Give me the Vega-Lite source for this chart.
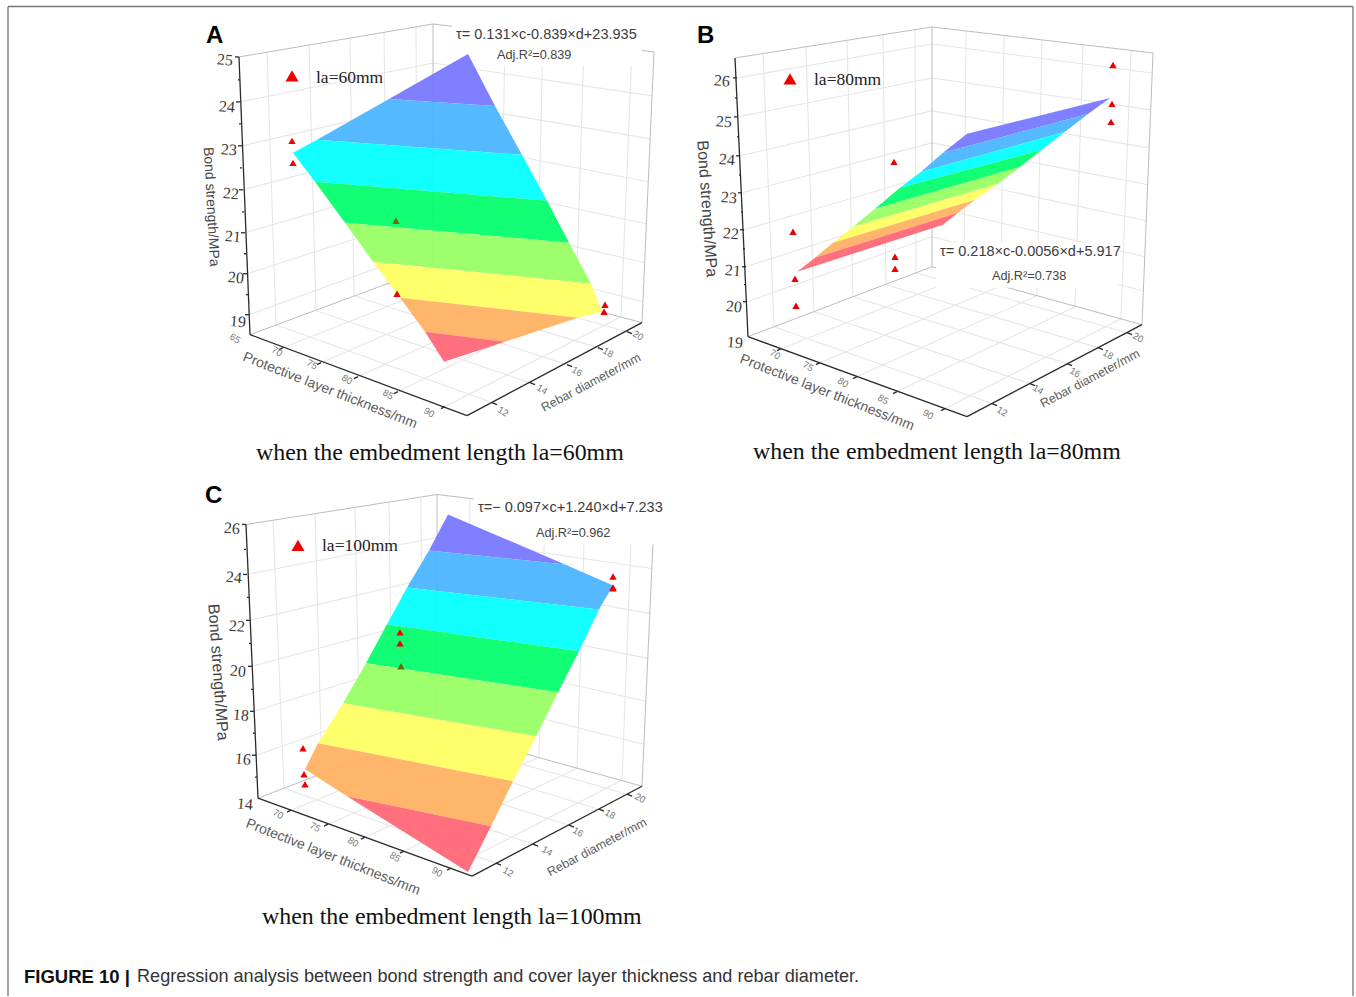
{
"$schema":"https://vega.github.io/schema/vega-lite/v6.json",
"width":1356,"height":997,"padding":0,"autosize":{"type":"fit","contains":"padding"},
"background":"white",
"config":{"view":{"stroke":null}},
"datasets":{
"seg":[
{"k":"frame","x":8,"y":997,"x2":8,"y2":6.5},{"k":"frame","x":8,"y":6.5,"x2":1353,"y2":6.5},{"k":"frame","x":1353,"y":6.5,"x2":1353,"y2":997},
{"k":"grid","x":240,"y":102,"x2":433,"y2":63},{"k":"grid","x":433,"y":63,"x2":652,"y2":96},
{"k":"grid","x":242,"y":146,"x2":433,"y2":102},{"k":"grid","x":433,"y":102,"x2":650,"y2":139},
{"k":"grid","x":243,"y":190,"x2":433,"y2":140},{"k":"grid","x":433,"y":140,"x2":648,"y2":182},
{"k":"grid","x":245,"y":233,"x2":433,"y2":178},{"k":"grid","x":433,"y":178,"x2":646,"y2":224},
{"k":"grid","x":247,"y":274,"x2":433,"y2":214},{"k":"grid","x":433,"y":214,"x2":645,"y2":263},
{"k":"grid","x":249,"y":315,"x2":433,"y2":248},{"k":"grid","x":433,"y":248,"x2":643,"y2":302},
{"k":"grid","x":283,"y":348,"x2":465,"y2":276},{"k":"grid","x":321,"y":363,"x2":501,"y2":285},{"k":"grid","x":358,"y":377,"x2":537,"y2":295},{"k":"grid","x":398,"y":392,"x2":576,"y2":305},{"k":"grid","x":445,"y":407,"x2":621,"y2":317},
{"k":"grid","x":465,"y":276,"x2":467,"y2":28},{"k":"grid","x":501,"y":285,"x2":505,"y2":33},{"k":"grid","x":537,"y":295,"x2":543,"y2":38},{"k":"grid","x":576,"y":305,"x2":584,"y2":43},{"k":"grid","x":621,"y":317,"x2":632,"y2":49},
{"k":"grid","x":492,"y":403,"x2":276,"y2":325},{"k":"grid","x":530,"y":383,"x2":316,"y2":311},{"k":"grid","x":567,"y":365,"x2":354,"y2":296},{"k":"grid","x":598,"y":348,"x2":387,"y2":284},{"k":"grid","x":627,"y":332,"x2":417,"y2":273},
{"k":"grid","x":276,"y":325,"x2":267,"y2":52},{"k":"grid","x":316,"y":311,"x2":309,"y2":45},{"k":"grid","x":354,"y":296,"x2":350,"y2":38},{"k":"grid","x":387,"y":284,"x2":384,"y2":32},{"k":"grid","x":417,"y":273,"x2":416,"y2":27},
{"k":"edge","x":239,"y":57,"x2":433,"y2":24},{"k":"edge","x":433,"y":24,"x2":654,"y2":52},{"k":"edge","x":433,"y":24,"x2":433,"y2":267},{"k":"edge","x":654,"y":52,"x2":642,"y2":323},{"k":"edge","x":250,"y":335,"x2":433,"y2":267},{"k":"edge","x":433,"y":267,"x2":642,"y2":323},
{"k":"grid","x":737,"y":78,"x2":932,"y2":44},{"k":"grid","x":932,"y":44,"x2":1152,"y2":73},
{"k":"grid","x":738,"y":117,"x2":932,"y2":78},{"k":"grid","x":932,"y":78,"x2":1151,"y2":110},
{"k":"grid","x":740,"y":156,"x2":932,"y2":111},{"k":"grid","x":932,"y":111,"x2":1149,"y2":148},
{"k":"grid","x":742,"y":193,"x2":932,"y2":143},{"k":"grid","x":932,"y":143,"x2":1148,"y2":185},
{"k":"grid","x":744,"y":230,"x2":932,"y2":175},{"k":"grid","x":932,"y":175,"x2":1146,"y2":221},
{"k":"grid","x":746,"y":267,"x2":932,"y2":207},{"k":"grid","x":932,"y":207,"x2":1145,"y2":257},
{"k":"grid","x":747,"y":302,"x2":932,"y2":237},{"k":"grid","x":932,"y":237,"x2":1143,"y2":291},
{"k":"grid","x":781,"y":349,"x2":964,"y2":276},{"k":"grid","x":820,"y":363,"x2":1001,"y2":286},{"k":"grid","x":857,"y":377,"x2":1037,"y2":296},{"k":"grid","x":897,"y":392,"x2":1075,"y2":307},{"k":"grid","x":945,"y":409,"x2":1121,"y2":319},
{"k":"grid","x":964,"y":276,"x2":966,"y2":31},{"k":"grid","x":1001,"y":286,"x2":1004,"y2":36},{"k":"grid","x":1037,"y":296,"x2":1042,"y2":40},{"k":"grid","x":1075,"y":307,"x2":1083,"y2":45},{"k":"grid","x":1121,"y":319,"x2":1131,"y2":50},
{"k":"grid","x":992,"y":404,"x2":774,"y2":327},{"k":"grid","x":1030,"y":384,"x2":814,"y2":312},{"k":"grid","x":1067,"y":364,"x2":853,"y2":297},{"k":"grid","x":1098,"y":348,"x2":886,"y2":285},{"k":"grid","x":1127,"y":333,"x2":916,"y2":273},
{"k":"grid","x":774,"y":327,"x2":763,"y2":54},{"k":"grid","x":814,"y":312,"x2":806,"y2":47},{"k":"grid","x":853,"y":297,"x2":847,"y2":40},{"k":"grid","x":886,"y":285,"x2":883,"y2":35},{"k":"grid","x":916,"y":273,"x2":915,"y2":30},
{"k":"edge","x":735,"y":58,"x2":932,"y2":27},{"k":"edge","x":932,"y":27,"x2":1153,"y2":53},{"k":"edge","x":932,"y":27,"x2":932,"y2":267},{"k":"edge","x":1153,"y":53,"x2":1142,"y2":325},{"k":"edge","x":748,"y":337,"x2":932,"y2":267},{"k":"edge","x":932,"y":267,"x2":1142,"y2":325},
{"k":"grid","x":247,"y":575,"x2":437,"y2":538},{"k":"grid","x":437,"y":538,"x2":652,"y2":569},
{"k":"grid","x":250,"y":621,"x2":437,"y2":577},{"k":"grid","x":437,"y":577,"x2":650,"y2":614},
{"k":"grid","x":252,"y":667,"x2":437,"y2":617},{"k":"grid","x":437,"y":617,"x2":648,"y2":659},
{"k":"grid","x":254,"y":712,"x2":437,"y2":655},{"k":"grid","x":437,"y":655,"x2":646,"y2":702},
{"k":"grid","x":256,"y":756,"x2":437,"y2":693},{"k":"grid","x":437,"y":693,"x2":644,"y2":745},
{"k":"grid","x":291,"y":811,"x2":468,"y2":739},{"k":"grid","x":328,"y":825,"x2":504,"y2":749},{"k":"grid","x":365,"y":838,"x2":539,"y2":758},{"k":"grid","x":404,"y":852,"x2":577,"y2":769},{"k":"grid","x":451,"y":869,"x2":622,"y2":781},
{"k":"grid","x":468,"y":739,"x2":470,"y2":499},{"k":"grid","x":504,"y":749,"x2":508,"y2":503},{"k":"grid","x":539,"y":758,"x2":545,"y2":508},{"k":"grid","x":577,"y":769,"x2":585,"y2":513},{"k":"grid","x":622,"y":781,"x2":632,"y2":518},
{"k":"grid","x":496,"y":864,"x2":284,"y2":789},{"k":"grid","x":533,"y":845,"x2":322,"y2":774},{"k":"grid","x":569,"y":826,"x2":360,"y2":760},{"k":"grid","x":599,"y":810,"x2":392,"y2":747},{"k":"grid","x":627,"y":795,"x2":422,"y2":736},
{"k":"grid","x":284,"y":789,"x2":273,"y2":521},{"k":"grid","x":322,"y":774,"x2":315,"y2":514},{"k":"grid","x":360,"y":760,"x2":355,"y2":508},{"k":"grid","x":392,"y":747,"x2":389,"y2":503},{"k":"grid","x":422,"y":736,"x2":421,"y2":498},
{"k":"edge","x":246,"y":525,"x2":437,"y2":495},{"k":"edge","x":437,"y":495,"x2":654,"y2":521},{"k":"edge","x":437,"y":495,"x2":437,"y2":730},{"k":"edge","x":654,"y":521,"x2":642,"y2":787},{"k":"edge","x":258,"y":799,"x2":437,"y2":730},{"k":"edge","x":437,"y":730,"x2":642,"y2":787}
],
"axes":[
{"k":"axis","x":239,"y":57,"x2":250,"y2":335},{"k":"axis","x":250,"y":335,"x2":467,"y2":416},{"k":"axis","x":467,"y":416,"x2":642,"y2":323},
{"k":"axis","x":735,"y":58,"x2":748,"y2":337},{"k":"axis","x":748,"y":337,"x2":967,"y2":417},{"k":"axis","x":967,"y":417,"x2":1142,"y2":325},
{"k":"axis","x":246,"y":525,"x2":258,"y2":799},{"k":"axis","x":258,"y":799,"x2":472,"y2":877},{"k":"axis","x":472,"y":877,"x2":642,"y2":787},
{"k":"tick","x":239,"y":57,"x2":235,"y2":57},{"k":"tick","x":240,"y":102,"x2":236,"y2":102},{"k":"tick","x":242,"y":146,"x2":238,"y2":146},{"k":"tick","x":243,"y":190,"x2":239,"y2":190},{"k":"tick","x":245,"y":233,"x2":241,"y2":233},{"k":"tick","x":247,"y":274,"x2":243,"y2":274},{"k":"tick","x":249,"y":315,"x2":245,"y2":315},
{"k":"tick","x":240,"y":80,"x2":238,"y2":80},{"k":"tick","x":241,"y":124,"x2":239,"y2":124},{"k":"tick","x":242,"y":168,"x2":240,"y2":168},{"k":"tick","x":244,"y":212,"x2":242,"y2":212},{"k":"tick","x":246,"y":254,"x2":244,"y2":254},{"k":"tick","x":248,"y":295,"x2":246,"y2":295},
{"k":"tick","x":283,"y":348,"x2":279,"y2":350},{"k":"tick","x":321,"y":363,"x2":317,"y2":365},{"k":"tick","x":358,"y":377,"x2":354,"y2":379},{"k":"tick","x":398,"y":392,"x2":394,"y2":394},{"k":"tick","x":445,"y":407,"x2":441,"y2":409},
{"k":"tick","x":492,"y":403,"x2":497,"y2":405},{"k":"tick","x":530,"y":383,"x2":535,"y2":385},{"k":"tick","x":567,"y":365,"x2":572,"y2":367},{"k":"tick","x":598,"y":348,"x2":603,"y2":350},{"k":"tick","x":627,"y":332,"x2":632,"y2":334},
{"k":"tick","x":737,"y":78,"x2":733,"y2":78},{"k":"tick","x":738,"y":117,"x2":734,"y2":117},{"k":"tick","x":740,"y":156,"x2":736,"y2":156},{"k":"tick","x":742,"y":193,"x2":738,"y2":193},{"k":"tick","x":744,"y":230,"x2":740,"y2":230},{"k":"tick","x":746,"y":267,"x2":742,"y2":267},{"k":"tick","x":747,"y":302,"x2":743,"y2":302},
{"k":"tick","x":737,"y":98,"x2":735,"y2":98},{"k":"tick","x":739,"y":137,"x2":737,"y2":137},{"k":"tick","x":741,"y":175,"x2":739,"y2":175},{"k":"tick","x":743,"y":212,"x2":741,"y2":212},{"k":"tick","x":745,"y":249,"x2":743,"y2":249},{"k":"tick","x":746,"y":285,"x2":744,"y2":285},
{"k":"tick","x":781,"y":349,"x2":777,"y2":351},{"k":"tick","x":820,"y":363,"x2":816,"y2":365},{"k":"tick","x":857,"y":377,"x2":853,"y2":379},{"k":"tick","x":897,"y":392,"x2":893,"y2":394},{"k":"tick","x":945,"y":409,"x2":941,"y2":411},
{"k":"tick","x":992,"y":404,"x2":997,"y2":406},{"k":"tick","x":1030,"y":384,"x2":1035,"y2":386},{"k":"tick","x":1067,"y":364,"x2":1072,"y2":366},{"k":"tick","x":1098,"y":348,"x2":1103,"y2":350},{"k":"tick","x":1127,"y":333,"x2":1132,"y2":335},
{"k":"tick","x":246,"y":525,"x2":242,"y2":525},{"k":"tick","x":247,"y":575,"x2":243,"y2":575},{"k":"tick","x":250,"y":621,"x2":246,"y2":621},{"k":"tick","x":252,"y":667,"x2":248,"y2":667},{"k":"tick","x":254,"y":712,"x2":250,"y2":712},{"k":"tick","x":256,"y":756,"x2":252,"y2":756},
{"k":"tick","x":246,"y":550,"x2":244,"y2":550},{"k":"tick","x":249,"y":598,"x2":247,"y2":598},{"k":"tick","x":251,"y":644,"x2":249,"y2":644},{"k":"tick","x":253,"y":690,"x2":251,"y2":690},{"k":"tick","x":255,"y":734,"x2":253,"y2":734},{"k":"tick","x":257,"y":778,"x2":255,"y2":778},
{"k":"tick","x":291,"y":811,"x2":287,"y2":813},{"k":"tick","x":328,"y":825,"x2":324,"y2":827},{"k":"tick","x":365,"y":838,"x2":361,"y2":840},{"k":"tick","x":404,"y":852,"x2":400,"y2":854},{"k":"tick","x":451,"y":869,"x2":447,"y2":871},
{"k":"tick","x":496,"y":864,"x2":501,"y2":866},{"k":"tick","x":533,"y":845,"x2":538,"y2":847},{"k":"tick","x":569,"y":826,"x2":574,"y2":828},{"k":"tick","x":599,"y":810,"x2":604,"y2":812},{"k":"tick","x":627,"y":795,"x2":632,"y2":797}
],
"patch":[
{"x":452,"x2":642,"y":26,"y2":66},
{"x":936,"x2":1118,"y":243,"y2":288},
{"x":474,"x2":668,"y":498,"y2":545}
],
"surf":[
{"p":"A","b":"b1","i":1,"x":468,"y":54},{"p":"A","b":"b1","i":2,"x":495,"y":106},{"p":"A","b":"b1","i":3,"x":389,"y":99},
{"p":"A","b":"b2","i":1,"x":389,"y":99},{"p":"A","b":"b2","i":2,"x":495,"y":106},{"p":"A","b":"b2","i":3,"x":522,"y":155},{"p":"A","b":"b2","i":4,"x":317,"y":140},
{"p":"A","b":"b3","i":1,"x":317,"y":140},{"p":"A","b":"b3","i":2,"x":522,"y":155},{"p":"A","b":"b3","i":3,"x":547,"y":201},{"p":"A","b":"b3","i":4,"x":315,"y":182},{"p":"A","b":"b3","i":5,"x":293,"y":153},
{"p":"A","b":"b4","i":1,"x":315,"y":182},{"p":"A","b":"b4","i":2,"x":547,"y":201},{"p":"A","b":"b4","i":3,"x":569,"y":243},{"p":"A","b":"b4","i":4,"x":345,"y":223},
{"p":"A","b":"b5","i":1,"x":345,"y":223},{"p":"A","b":"b5","i":2,"x":569,"y":243},{"p":"A","b":"b5","i":3,"x":591,"y":284},{"p":"A","b":"b5","i":4,"x":373,"y":262},
{"p":"A","b":"b6","i":1,"x":373,"y":262},{"p":"A","b":"b6","i":2,"x":591,"y":284},{"p":"A","b":"b6","i":3,"x":602,"y":312},{"p":"A","b":"b6","i":4,"x":578,"y":318},{"p":"A","b":"b6","i":5,"x":400,"y":298},
{"p":"A","b":"b7","i":1,"x":400,"y":298},{"p":"A","b":"b7","i":2,"x":578,"y":318},{"p":"A","b":"b7","i":3,"x":505,"y":342},{"p":"A","b":"b7","i":4,"x":425,"y":332},
{"p":"A","b":"b8","i":1,"x":425,"y":332},{"p":"A","b":"b8","i":2,"x":505,"y":342},{"p":"A","b":"b8","i":3,"x":444,"y":362},
{"p":"B","b":"b1","i":1,"x":967,"y":134},{"p":"B","b":"b1","i":2,"x":1110,"y":98},{"p":"B","b":"b1","i":3,"x":1088,"y":114},{"p":"B","b":"b1","i":4,"x":943,"y":153},
{"p":"B","b":"b2","i":1,"x":943,"y":153},{"p":"B","b":"b2","i":2,"x":1088,"y":114},{"p":"B","b":"b2","i":3,"x":1065,"y":132},{"p":"B","b":"b2","i":4,"x":921,"y":172},
{"p":"B","b":"b3","i":1,"x":921,"y":172},{"p":"B","b":"b3","i":2,"x":1065,"y":132},{"p":"B","b":"b3","i":3,"x":1042,"y":150},{"p":"B","b":"b3","i":4,"x":900,"y":188},
{"p":"B","b":"b4","i":1,"x":900,"y":188},{"p":"B","b":"b4","i":2,"x":1042,"y":150},{"p":"B","b":"b4","i":3,"x":1020,"y":167},{"p":"B","b":"b4","i":4,"x":875,"y":209},
{"p":"B","b":"b5","i":1,"x":875,"y":209},{"p":"B","b":"b5","i":2,"x":1020,"y":167},{"p":"B","b":"b5","i":3,"x":998,"y":184},{"p":"B","b":"b5","i":4,"x":853,"y":227},
{"p":"B","b":"b6","i":1,"x":853,"y":227},{"p":"B","b":"b6","i":2,"x":998,"y":184},{"p":"B","b":"b6","i":3,"x":975,"y":200},{"p":"B","b":"b6","i":4,"x":833,"y":243},
{"p":"B","b":"b7","i":1,"x":833,"y":243},{"p":"B","b":"b7","i":2,"x":975,"y":200},{"p":"B","b":"b7","i":3,"x":958,"y":213},{"p":"B","b":"b7","i":4,"x":815,"y":258},
{"p":"B","b":"b8","i":1,"x":815,"y":258},{"p":"B","b":"b8","i":2,"x":958,"y":213},{"p":"B","b":"b8","i":3,"x":943,"y":225},{"p":"B","b":"b8","i":4,"x":797,"y":272},
{"p":"C","b":"b1","i":1,"x":448,"y":515},{"p":"C","b":"b1","i":2,"x":565,"y":565},{"p":"C","b":"b1","i":3,"x":429,"y":551},
{"p":"C","b":"b2","i":1,"x":429,"y":551},{"p":"C","b":"b2","i":2,"x":565,"y":565},{"p":"C","b":"b2","i":3,"x":613,"y":586},{"p":"C","b":"b2","i":4,"x":599,"y":610},{"p":"C","b":"b2","i":5,"x":407,"y":588},
{"p":"C","b":"b3","i":1,"x":407,"y":588},{"p":"C","b":"b3","i":2,"x":599,"y":610},{"p":"C","b":"b3","i":3,"x":579,"y":652},{"p":"C","b":"b3","i":4,"x":387,"y":625},
{"p":"C","b":"b4","i":1,"x":387,"y":625},{"p":"C","b":"b4","i":2,"x":579,"y":652},{"p":"C","b":"b4","i":3,"x":558,"y":693},{"p":"C","b":"b4","i":4,"x":366,"y":664},
{"p":"C","b":"b5","i":1,"x":366,"y":664},{"p":"C","b":"b5","i":2,"x":558,"y":693},{"p":"C","b":"b5","i":3,"x":536,"y":737},{"p":"C","b":"b5","i":4,"x":343,"y":704},
{"p":"C","b":"b6","i":1,"x":343,"y":704},{"p":"C","b":"b6","i":2,"x":536,"y":737},{"p":"C","b":"b6","i":3,"x":513,"y":782},{"p":"C","b":"b6","i":4,"x":318,"y":744},
{"p":"C","b":"b7","i":1,"x":318,"y":744},{"p":"C","b":"b7","i":2,"x":513,"y":782},{"p":"C","b":"b7","i":3,"x":491,"y":827},{"p":"C","b":"b7","i":4,"x":347,"y":797},{"p":"C","b":"b7","i":5,"x":305,"y":770},
{"p":"C","b":"b8","i":1,"x":347,"y":797},{"p":"C","b":"b8","i":2,"x":491,"y":827},{"p":"C","b":"b8","i":3,"x":468,"y":873}
],
"pts":[
{"p":"A","t":"open","x":292,"y":141},{"p":"A","t":"open","x":293,"y":163},{"p":"A","t":"under","x":396,"y":221},{"p":"A","t":"open","x":397,"y":294},{"p":"A","t":"open","x":605,"y":305},{"p":"A","t":"open","x":604,"y":312},
{"p":"B","t":"open","x":793,"y":232},{"p":"B","t":"open","x":795,"y":279},{"p":"B","t":"open","x":796,"y":306},{"p":"B","t":"open","x":894,"y":162},{"p":"B","t":"open","x":895,"y":257},{"p":"B","t":"open","x":895,"y":269},{"p":"B","t":"open","x":1113,"y":65},{"p":"B","t":"open","x":1112,"y":104},{"p":"B","t":"open","x":1111,"y":122},
{"p":"C","t":"open","x":613,"y":577},{"p":"C","t":"open","x":613,"y":588},{"p":"C","t":"open","x":613,"y":589},{"p":"C","t":"open","x":400,"y":633},{"p":"C","t":"open","x":400,"y":644},{"p":"C","t":"under","x":401,"y":667},{"p":"C","t":"open","x":303,"y":749},{"p":"C","t":"open","x":304,"y":775},{"p":"C","t":"open","x":305,"y":785}
],
"leg":[{"p":"A","x":292,"y":76},{"p":"B","x":790,"y":79},{"p":"C","x":298,"y":546}],
"txt":[
{"r":"ytick","s":"25","x":225,"y":60},{"r":"ytick","s":"24","x":227,"y":107},{"r":"ytick","s":"23","x":229,"y":150},{"r":"ytick","s":"22","x":231,"y":194},{"r":"ytick","s":"21","x":233,"y":237},{"r":"ytick","s":"20","x":236,"y":278},{"r":"ytick","s":"19","x":238,"y":322},
{"r":"ytick","s":"26","x":722,"y":81},{"r":"ytick","s":"25","x":724,"y":122},{"r":"ytick","s":"24","x":727,"y":160},{"r":"ytick","s":"23","x":729,"y":198},{"r":"ytick","s":"22","x":731,"y":234},{"r":"ytick","s":"21","x":733,"y":271},{"r":"ytick","s":"20","x":734,"y":307},{"r":"ytick","s":"19","x":735,"y":343},
{"r":"ytick","s":"26","x":232,"y":529},{"r":"ytick","s":"24","x":234,"y":578},{"r":"ytick","s":"22","x":237,"y":627},{"r":"ytick","s":"20","x":238,"y":672},{"r":"ytick","s":"18","x":241,"y":716},{"r":"ytick","s":"16","x":243,"y":760},{"r":"ytick","s":"14","x":245,"y":805},
{"r":"ftick","s":"65","x":235,"y":339},{"r":"ftick","s":"70","x":277,"y":352},{"r":"ftick","s":"75","x":312,"y":365},{"r":"ftick","s":"80","x":347,"y":380},{"r":"ftick","s":"85","x":388,"y":395},{"r":"ftick","s":"90","x":429,"y":413},
{"r":"ftick","s":"12","x":503,"y":412},{"r":"ftick","s":"14","x":542,"y":390},{"r":"ftick","s":"16","x":577,"y":372},{"r":"ftick","s":"18","x":608,"y":353},{"r":"ftick","s":"20","x":638,"y":336},
{"r":"ftick","s":"70","x":775,"y":355},{"r":"ftick","s":"75","x":808,"y":367},{"r":"ftick","s":"80","x":843,"y":383},{"r":"ftick","s":"85","x":883,"y":400},{"r":"ftick","s":"90","x":928,"y":415},
{"r":"ftick","s":"12","x":1002,"y":412},{"r":"ftick","s":"14","x":1038,"y":390},{"r":"ftick","s":"16","x":1075,"y":373},{"r":"ftick","s":"18","x":1108,"y":355},{"r":"ftick","s":"20","x":1138,"y":338},
{"r":"ftick","s":"70","x":278,"y":815},{"r":"ftick","s":"75","x":315,"y":828},{"r":"ftick","s":"80","x":353,"y":843},{"r":"ftick","s":"85","x":395,"y":858},{"r":"ftick","s":"90","x":437,"y":873},
{"r":"ftick","s":"12","x":508,"y":873},{"r":"ftick","s":"14","x":547,"y":852},{"r":"ftick","s":"16","x":578,"y":833},{"r":"ftick","s":"18","x":610,"y":815},{"r":"ftick","s":"20","x":640,"y":799},
{"r":"ytitleA","s":"Bond strength/MPa","x":211,"y":207},
{"r":"ytitleB","s":"Bond strength/MPa","x":707,"y":209},{"r":"ytitleB","s":"Bond strength/MPa","x":218,"y":673},
{"r":"xtitle","s":"Protective layer thickness/mm","x":330,"y":391},{"r":"xtitle","s":"Protective layer thickness/mm","x":827,"y":393},{"r":"xtitle","s":"Protective layer thickness/mm","x":333,"y":858},
{"r":"dtitle","s":"Rebar diameter/mm","x":591,"y":383},{"r":"dtitle","s":"Rebar diameter/mm","x":1090,"y":379},{"r":"dtitle","s":"Rebar diameter/mm","x":597,"y":848},
{"r":"eq","s":"τ= 0.131×c-0.839×d+23.935","x":456,"y":35},{"r":"eq","s":"τ= 0.218×c-0.0056×d+5.917","x":940,"y":252},{"r":"eq","s":"τ=− 0.097×c+1.240×d+7.233","x":478,"y":509},
{"r":"r2","s":"Adj.R²=0.839","x":497,"y":55},{"r":"r2","s":"Adj.R²=0.738","x":992,"y":276},{"r":"r2","s":"Adj.R²=0.962","x":536,"y":534},
{"r":"leg","s":"la=60mm","x":316,"y":78},{"r":"leg","s":"la=80mm","x":814,"y":80},{"r":"leg","s":"la=100mm","x":322,"y":547},
{"r":"cap","s":"when the embedment length la=60mm","x":256,"y":453},{"r":"cap","s":"when the embedment length la=80mm","x":753,"y":452},{"r":"cap","s":"when the embedment length la=100mm","x":262,"y":918},
{"r":"letter","s":"A","x":206,"y":36},{"r":"letter","s":"B","x":697,"y":36},{"r":"letter","s":"C","x":205,"y":496},
{"r":"figb","s":"FIGURE 10 |","x":24,"y":978},{"r":"fig","s":"Regression analysis between bond strength and cover layer thickness and rebar diameter.","x":137,"y":978}
]
},
"encoding":{
"x":{"field":"x","type":"quantitative","scale":{"domain":[0,1356],"nice":false,"zero":false},"axis":null},
"y":{"field":"y","type":"quantitative","scale":{"domain":[997,0],"nice":false,"zero":false},"axis":null}
},
"resolve":{"scale":{"color":"independent"}},
"layer":[
{"data":{"name":"seg"},"mark":{"type":"rule"},"encoding":{"x2":{"field":"x2"},"y2":{"field":"y2"},
 "color":{"field":"k","type":"nominal","legend":null,"scale":{"domain":["frame","grid","edge"],"range":["#747474","#e6e6e6","#b4b4b4"]}},
 "strokeWidth":{"field":"k","type":"nominal","legend":null,"scale":{"domain":["frame","grid","edge"],"range":[1.3,0.9,0.9]}}}},
{"data":{"name":"patch"},"mark":{"type":"rect","color":"white"},"encoding":{"x2":{"field":"x2"},"y2":{"field":"y2"}}},
{"data":{"name":"surf"},"mark":{"type":"line","filled":true,"opacity":0.93,"strokeWidth":0},"encoding":{
 "order":{"field":"i","type":"quantitative"},
 "detail":{"field":"p"},
 "color":{"field":"b","type":"nominal","legend":null,"scale":{"domain":["b1","b2","b3","b4","b5","b6","b7","b8"],"range":["#7575ff","#47b4ff","#00ffff","#00ff6a","#96ff60","#ffff60","#ffb060","#ff6474"]}}}},
{"data":{"name":"axes"},"mark":{"type":"rule","color":"#2a2a2a","strokeWidth":1.3},"encoding":{"x2":{"field":"x2"},"y2":{"field":"y2"}}},
{"data":{"name":"pts"},"mark":{"type":"point","shape":"triangle-up","filled":true,"size":55,"opacity":1},"encoding":{
 "color":{"field":"t","type":"nominal","legend":null,"scale":{"domain":["open","under"],"range":["#ee0000","#6f6a08"]}}}},
{"data":{"name":"leg"},"mark":{"type":"point","shape":"triangle-up","filled":true,"size":170,"color":"#ee0000","opacity":1}},
{"data":{"name":"txt"},"transform":[{"filter":"datum.r==='ytick'"}],"mark":{"type":"text","font":"Liberation Serif","fontSize":16,"color":"#3a3a3a","angle":5},"encoding":{"text":{"field":"s"}}},
{"data":{"name":"txt"},"transform":[{"filter":"datum.r==='ftick'"}],"mark":{"type":"text","font":"Liberation Sans","fontSize":9.5,"color":"#777777","angle":30},"encoding":{"text":{"field":"s"}}},
{"data":{"name":"txt"},"transform":[{"filter":"datum.r==='ytitleA'"}],"mark":{"type":"text","font":"Liberation Sans","fontSize":14,"color":"#444444","angle":87},"encoding":{"text":{"field":"s"}}},
{"data":{"name":"txt"},"transform":[{"filter":"datum.r==='ytitleB'"}],"mark":{"type":"text","font":"Liberation Sans","fontSize":16,"color":"#444444","angle":86},"encoding":{"text":{"field":"s"}}},
{"data":{"name":"txt"},"transform":[{"filter":"datum.r==='xtitle'"}],"mark":{"type":"text","font":"Liberation Sans","fontSize":14,"color":"#5c5c5c","angle":21.5},"encoding":{"text":{"field":"s"}}},
{"data":{"name":"txt"},"transform":[{"filter":"datum.r==='dtitle'"}],"mark":{"type":"text","font":"Liberation Sans","fontSize":12.5,"color":"#5c5c5c","angle":-28},"encoding":{"text":{"field":"s"}}},
{"data":{"name":"txt"},"transform":[{"filter":"datum.r==='eq'"}],"mark":{"type":"text","font":"Liberation Sans","fontSize":14.5,"color":"#3c3c3c","align":"left"},"encoding":{"text":{"field":"s"}}},
{"data":{"name":"txt"},"transform":[{"filter":"datum.r==='r2'"}],"mark":{"type":"text","font":"Liberation Sans","fontSize":12.7,"color":"#444444","align":"left"},"encoding":{"text":{"field":"s"}}},
{"data":{"name":"txt"},"transform":[{"filter":"datum.r==='leg'"}],"mark":{"type":"text","font":"Liberation Serif","fontSize":17.5,"color":"#222222","align":"left"},"encoding":{"text":{"field":"s"}}},
{"data":{"name":"txt"},"transform":[{"filter":"datum.r==='cap'"}],"mark":{"type":"text","font":"Liberation Serif","fontSize":23.9,"color":"#111111","align":"left"},"encoding":{"text":{"field":"s"}}},
{"data":{"name":"txt"},"transform":[{"filter":"datum.r==='letter'"}],"mark":{"type":"text","font":"Liberation Sans","fontSize":24,"fontWeight":"bold","color":"#000000","align":"left"},"encoding":{"text":{"field":"s"}}},
{"data":{"name":"txt"},"transform":[{"filter":"datum.r==='figb'"}],"mark":{"type":"text","font":"Liberation Sans","fontSize":18.5,"fontWeight":"bold","color":"#111111","align":"left"},"encoding":{"text":{"field":"s"}}},
{"data":{"name":"txt"},"transform":[{"filter":"datum.r==='fig'"}],"mark":{"type":"text","font":"Liberation Sans","fontSize":18.1,"color":"#333333","align":"left"},"encoding":{"text":{"field":"s"}}}
]
}
